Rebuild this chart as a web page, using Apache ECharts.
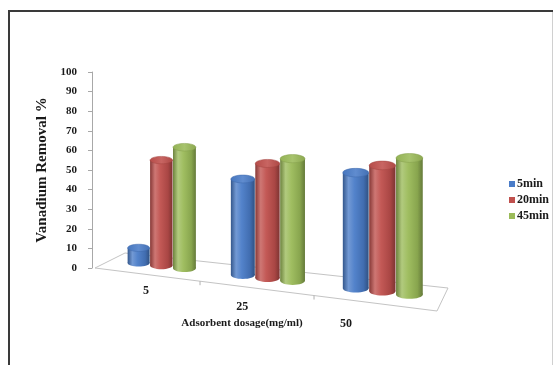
<!DOCTYPE html>
<html>
<head>
<meta charset="utf-8">
<script src="https://cdn.jsdelivr.net/npm/echarts@6/dist/echarts.min.js"></script>
<style>
  html, body { margin: 0; padding: 0; background: #ffffff; }
  #chart { width: 555px; height: 365px; }
</style>
</head>
<body>
<div id="chart"></div>
<script>
// Adsorbent dosage categories (mg/ml)
const categories = ['5', '25', '50'];
// Contact times
const seriesNames = ['5min', '20min', '45min'];
// Vanadium removal (%) per dosage
const removal5min = [7.5, 44, 49];
const removal20min = [51.5, 51.5, 52.5];
const removal45min = [58, 54, 56];
// Value axis range
const yMin = 0, yMax = 100, yStep = 10;

const seriesValues = [removal5min, removal20min, removal45min];
const baseColors = ['#4A7CC8', '#C0504D', '#9BBB59'];

const SERIF = '"Liberation Serif", "Times New Roman", serif';

// Oblique floor of the 3-D plot: front-left, front-right, back-left, back-right corners
const FLOOR = { fl: [95, 268], fr: [437, 311], bl: [125, 253], br: [448, 288] };
const PERSP = 0.134;     // perspective growth from left (far) to right (near)
const DEPTH = 0.55;      // depth row the cylinders stand on
const BAR_SLOT = 0.225;  // share of a category band taken by one cylinder

function warp(u) { return u * (1 + PERSP * u) / (1 + PERSP); }
function lerp(a, b, t) { return a + (b - a) * t; }
function floorPoint(u, d) {
  const t = warp(u);
  const fx = lerp(FLOOR.fl[0], FLOOR.fr[0], t), fy = lerp(FLOOR.fl[1], FLOOR.fr[1], t);
  const bx = lerp(FLOOR.bl[0], FLOOR.br[0], t), by = lerp(FLOOR.bl[1], FLOOR.br[1], t);
  return [lerp(fx, bx, d), lerp(fy, by, d)];
}

function shade(hex, f) {
  const n = parseInt(hex.slice(1), 16);
  let r = (n >> 16) & 255, g = (n >> 8) & 255, b = n & 255;
  const m = (c) => f >= 0 ? Math.round(c + (255 - c) * f) : Math.round(c * (1 + f));
  return 'rgb(' + m(r) + ',' + m(g) + ',' + m(b) + ')';
}
function bodyGradient(c) {
  return {
    type: 'linear', x: 0, y: 0, x2: 1, y2: 0,
    colorStops: [
      { offset: 0, color: shade(c, -0.3) },
      { offset: 0.22, color: shade(c, 0.22) },
      { offset: 0.45, color: shade(c, 0.05) },
      { offset: 0.8, color: shade(c, -0.12) },
      { offset: 1, color: shade(c, -0.35) }
    ]
  };
}
function topGradient(c) {
  return {
    type: 'linear', x: 0, y: 0, x2: 1, y2: 0,
    colorStops: [
      { offset: 0, color: shade(c, -0.05) },
      { offset: 0.5, color: shade(c, 0.12) },
      { offset: 1, color: shade(c, -0.1) }
    ]
  };
}

function cylinderItem(params, api) {
  const j = params.seriesIndex;
  const idx = api.value(0), v = api.value(1);
  const band = api.size([1, 0])[0];
  const c = api.coord([idx, 0]);
  const gridLeft = api.coord([0, 0])[0] - band / 2;
  const total = band * categories.length;
  const du = BAR_SLOT * band / total;
  const u = (c[0] - gridLeft) / total + (j - 1) * du;
  const base = floorPoint(u, DEPTH);
  const l = floorPoint(u - du / 2, DEPTH), r = floorPoint(u + du / 2, DEPTH);
  const rx = (r[0] - l[0]) / 2 * 0.98;
  const ry = rx * 0.33;
  const h = api.size([0, v])[1] * (1 + 2 * PERSP * u);
  const cx = base[0], by = base[1], ty = by - h;
  const col = baseColors[j];
  return {
    type: 'group',
    children: [
      { type: 'ellipse', shape: { cx: cx, cy: by, rx: rx, ry: ry }, style: { fill: bodyGradient(col) } },
      { type: 'rect', shape: { x: cx - rx, y: ty, width: rx * 2, height: h }, style: { fill: bodyGradient(col) } },
      { type: 'ellipse', shape: { cx: cx, cy: ty, rx: rx, ry: ry }, style: { fill: topGradient(col), stroke: shade(col, -0.15), lineWidth: 0.5 } }
    ]
  };
}

// Category labels follow the slanted front of the floor
const LABEL_START = [101, 284], LABEL_END = [401, 333];
function categoryLabel(params, api) {
  const idx = api.value(0);
  const band = api.size([1, 0])[0];
  const c = api.coord([idx, 0]);
  const gridLeft = api.coord([0, 0])[0] - band / 2;
  const t = warp((c[0] - gridLeft) / (band * categories.length));
  return {
    type: 'text',
    style: {
      text: categories[idx],
      x: lerp(LABEL_START[0], LABEL_END[0], t),
      y: lerp(LABEL_START[1], LABEL_END[1], t),
      align: 'center', verticalAlign: 'middle',
      font: 'bold 12px ' + SERIF, fill: '#1a1a1a'
    }
  };
}

// Floor outline and category separators
const floorGraphics = [];
const corners = [floorPoint(0, 0), floorPoint(1, 0), floorPoint(1, 1), floorPoint(0, 1)];
floorGraphics.push({
  type: 'polygon', z: 0,
  shape: { points: corners },
  style: { fill: 'rgba(0,0,0,0)', stroke: '#c4c4c4', lineWidth: 1 }
});
for (let i = 1; i < categories.length; i++) {
  const p = floorPoint(i / categories.length, 0);
  floorGraphics.push({
    type: 'line', z: 0,
    shape: { x1: p[0], y1: p[1], x2: p[0], y2: p[1] + 4 },
    style: { stroke: '#b0b0b0', lineWidth: 1 }
  });
}

const chart = echarts.init(document.getElementById('chart'), null, { renderer: 'canvas' });

const series = seriesNames.map((name, j) => ({
  name: name,
  type: 'custom',
  coordinateSystem: 'cartesian2d',
  itemStyle: { color: baseColors[j] },
  renderItem: cylinderItem,
  data: seriesValues[j].map((v, i) => [i, v]),
  z: 2 + j
}));
series.push({
  name: 'labels',
  type: 'custom',
  coordinateSystem: 'cartesian2d',
  renderItem: categoryLabel,
  data: categories.map((c, i) => [i, 0]),
  silent: true,
  z: 1
});

chart.setOption({
  animation: false,
  backgroundColor: '#ffffff',
  grid: { left: 92, top: 72, width: 345, height: 196 },
  legend: {
    data: seriesNames,
    orient: 'vertical',
    left: 504, top: 173,
    itemWidth: 6, itemHeight: 6, itemGap: 4,
    icon: 'rect',
    textStyle: { fontFamily: SERIF, fontWeight: 'bold', fontSize: 12, color: '#1a1a1a', padding: [0, 0, 0, -3] }
  },
  xAxis: {
    type: 'category',
    data: categories,
    show: false
  },
  yAxis: {
    type: 'value',
    min: yMin, max: yMax, interval: yStep,
    name: 'Vanadium Removal %',
    nameLocation: 'middle',
    nameGap: 37,
    nameRotate: 90,
    nameTextStyle: { fontFamily: SERIF, fontWeight: 'bold', fontSize: 15, color: '#1a1a1a' },
    axisLine: { show: true, lineStyle: { color: '#a8a8a8', width: 1 } },
    axisTick: { show: true, length: 4, lineStyle: { color: '#a8a8a8' } },
    axisLabel: { margin: 15, fontFamily: SERIF, fontWeight: 'bold', fontSize: 11, color: '#1a1a1a' },
    splitLine: { show: false }
  },
  graphic: floorGraphics.concat([
    {
      type: 'text', z: 1,
      style: {
        text: 'Adsorbent dosage(mg/ml)', x: 242, y: 323,
        align: 'center', verticalAlign: 'middle',
        font: 'bold 11px ' + SERIF, fill: '#1a1a1a'
      }
    },
    {
      type: 'polyline', z: 5,
      shape: { points: [[9, 380], [9, 11], [553, 11]] },
      style: { fill: 'none', stroke: '#3a3a3a', lineWidth: 2 }
    },
    {
      type: 'line', z: 5,
      shape: { x1: 552.5, y1: 12, x2: 552.5, y2: 380 },
      style: { stroke: '#d0d0d0', lineWidth: 1 }
    }
  ]),
  series: series
});
</script>
</body>
</html>
